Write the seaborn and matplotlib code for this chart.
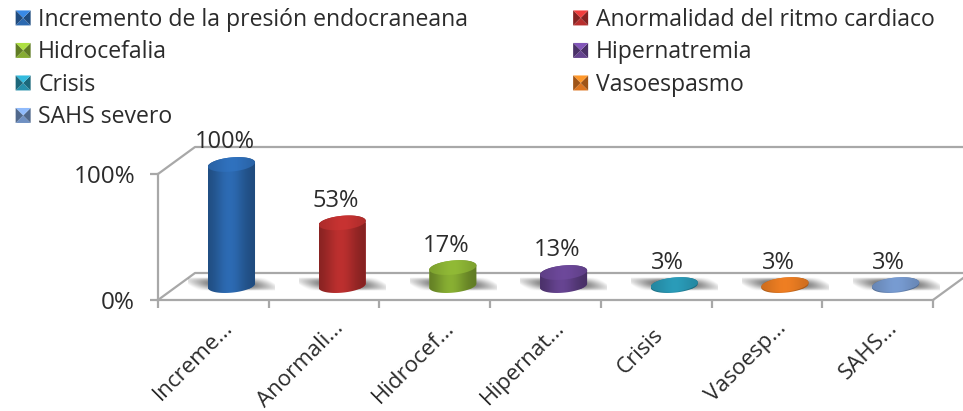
import numpy as np
import pandas as pd
import matplotlib
matplotlib.use("Agg")
import matplotlib.pyplot as plt
import seaborn as sns
from matplotlib.legend_handler import HandlerBase
from matplotlib.patches import Patch, Polygon
from matplotlib.transforms import ScaledTranslation

legend_names = ["Incremento de la presión endocraneana", "Anormalidad del ritmo cardiaco", "Hidrocefalia",
                "Hipernatremia", "Crisis", "Vasoespasmo", "SAHS severo"]
short_names = ["Increme...", "Anormali...", "Hidrocef...", "Hipernat...", "Crisis", "Vasoesp...", "SAHS..."]
values = [100, 53, 17, 13, 3, 3, 3]
colors = ["#2c69b0", "#b92f2e", "#86ac32", "#65438f", "#2790ab", "#dd7520", "#6f90c2"]

W, H = 963, 411
GRAY = "#a8a8a8"
TEXT = "#2b2b2b"
FS = 16.6
FS_TICK = 16
FS_VAL = 17

sns.set_theme(style="white")
plt.rcParams["font.family"] = ["Open Sans", "DejaVu Sans"]
plt.rcParams["text.color"] = TEXT


def rect(left, top, right, bottom):
    return [left / W, 1 - bottom / H, (right - left) / W, (bottom - top) / H]


fig = plt.figure(figsize=(W / 100, H / 100), dpi=100, facecolor="white")

# pared y suelo "3D" detras del grafico
bg = fig.add_axes([0, 0, 1, 1], zorder=0)
bg.set_xlim(0, W)
bg.set_ylim(H, 0)
bg.axis("off")
for xs, ys in [([158, 195, W], [174, 147, 147]), ([158, 195, W], [300, 273, 273]), ([933, 970], [300, 273])]:
    bg.plot(xs, ys, color=GRAY, lw=1.6)

# eje frontal
ax = fig.add_axes(rect(158, 174, 933, 300), zorder=1)
ax.patch.set_alpha(0)
ax.set_xlim(0, 7)
ax.set_ylim(0, 100)
for s in ["top", "right"]:
    ax.spines[s].set_visible(False)
for s in ["left", "bottom"]:
    ax.spines[s].set_color(GRAY)
    ax.spines[s].set_linewidth(1.6)
ax.set_yticks([0, 100], ["0%", "100%"], fontsize=17.5, color=TEXT)
ax.set_xticks(np.arange(8), [""] * 8)
ax.set_xticks(np.arange(7) + 0.5, short_names, minor=True, fontsize=FS_TICK, color=TEXT, rotation=45,
              ha="right", rotation_mode="anchor")
ax.tick_params(axis="both", which="major", color=GRAY, width=1.6, length=5.5, left=True, bottom=True)
ax.tick_params(axis="y", pad=11)
ax.tick_params(axis="x", which="minor", length=0, pad=9)
for lab in ax.get_xticklabels(minor=True):
    # "Crisis" queda mas abajo y a la izquierda que las demas
    dx, dy = (-4, -12) if lab.get_text() == "Crisis" else (9, -5)
    lab.set_transform(lab.get_transform() + ScaledTranslation(dx / 100, dy / 100, fig.dpi_scale_trans))

# columnas, desplazadas hacia el fondo
ax2 = fig.add_axes(rect(176.15, 164.5, 951.05, 288.7), zorder=2)
ax2.patch.set_alpha(0)
df = pd.DataFrame({"cat": legend_names, "val": values})
sns.barplot(df, x="cat", y="val", hue="cat", palette=colors, legend=False, saturation=1, width=0.425, ax=ax2)
ax2.set_xlim(-0.5, 6.5)
ax2.set_ylim(0, 100)
ax2.axis("off")

t = np.linspace(0, 2 * np.pi, 121)
A, B, TILT = 0.2125, 5.7, 1.7
BASE = 2.5
prof_x = np.linspace(0, 1, 64)
body_shade = 0.7 + 0.32 * np.exp(-((prof_x - 0.45) / 0.32) ** 2)
top_shade = 0.92 + 0.16 * np.exp(-((prof_x - 0.5) / 0.35) ** 2)


def shade_img(color, shade):
    rgb = np.array(matplotlib.colors.to_rgb(color))
    return np.clip(shade[None, :, None] * rgb[None, None, :], 0, 1)


for i, (bar, v, c) in enumerate(zip(ax2.patches, values, colors)):
    cx = bar.get_x() + bar.get_width() / 2

    # sombra sobre el suelo
    xx, yy = np.meshgrid(np.linspace(-1, 1, 80), np.linspace(-1, 1, 24))
    alpha = 0.9 * np.clip(1.05 - np.abs(xx + 0.25 * yy) ** 1.6, 0, 1) * np.clip(1 - yy ** 2, 0, 1)
    shadow = np.zeros(xx.shape + (4,))
    shadow[..., :3] = 0.26
    shadow[..., 3] = alpha
    ax2.imshow(shadow, extent=[cx - 0.39, cx + 0.39, -1.5, 9], aspect="auto", zorder=1, origin="lower", clip_on=False)

    top = max(v, BASE + 0.8)
    ex, ey = A * np.cos(t), B * np.sin(t) + TILT * np.cos(t)
    low = t >= np.pi
    # mitad inferior de izq a der, luego mitad superior de der a izq
    body = np.r_[np.c_[cx + ex[low], BASE + ey[low]], np.c_[cx + ex[~low], top + ey[~low]]]
    poly = Polygon(body, closed=True, transform=ax2.transData, fc="none", ec="none")
    ax2.add_patch(poly)
    bar.set_zorder(2)
    bar.set_clip_path(poly)
    bar.set_linewidth(0)
    im = ax2.imshow(shade_img(c, body_shade), extent=[cx - A, cx + A, BASE - B - 3, top + B + 3],
                    aspect="auto", zorder=3)
    im.set_clip_box(fig.bbox)
    im.set_clip_path(poly)

    lid = Polygon(np.c_[cx + ex, top + ey], closed=True, transform=ax2.transData, fc="none", ec="none")
    ax2.add_patch(lid)
    im = ax2.imshow(shade_img(c, top_shade), extent=[cx - A, cx + A, top - B - 3, top + B + 3],
                    aspect="auto", zorder=4)
    im.set_clip_box(fig.bbox)
    im.set_clip_path(lid)

    ax2.annotate(f"{v}%", (cx, top + B), xytext=(-7, 15), textcoords="offset pixels", ha="center", va="center",
                 fontsize=FS_VAL, color=TEXT, annotation_clip=False, zorder=6)
ax2.set_xlim(-0.5, 6.5)
ax2.set_ylim(0, 100)


# marcador de leyenda con biseles
class BevelHandler(HandlerBase):
    def create_artists(self, legend, orig, xd, yd, width, height, fontsize, trans):
        c = np.array(matplotlib.colors.to_rgb(orig.get_facecolor()))
        s = 15 * 0.72
        x0, y0 = -xd + (width - s) / 2, -yd + (height - s) / 2
        p = np.array([[x0, y0], [x0 + s, y0], [x0 + s, y0 + s], [x0, y0 + s]])
        mid = p.mean(axis=0)
        out = []
        for k, f in enumerate([1.0, 0.72, 1.3, 0.72]):
            tri = Polygon([p[k], p[(k + 1) % 4], mid], closed=True, fc=np.clip(c * f, 0, 1), ec="none", transform=trans)
            out.append(tri)
        return out


handles = [Patch(facecolor=colors[k], label=legend_names[k]) for k in [0, 2, 4, 6, 1, 3, 5]]
fig.legend(handles=handles, loc="upper left", bbox_to_anchor=(7 / W, 1 - 3 / H), ncol=2, frameon=False,
           fontsize=FS, handler_map={Patch: BevelHandler()}, handlelength=1.0, handleheight=1.0,
           handletextpad=0.15, labelspacing=0.36, columnspacing=4.38, borderpad=0.2, borderaxespad=0)

fig.savefig("out.png", dpi=100)
